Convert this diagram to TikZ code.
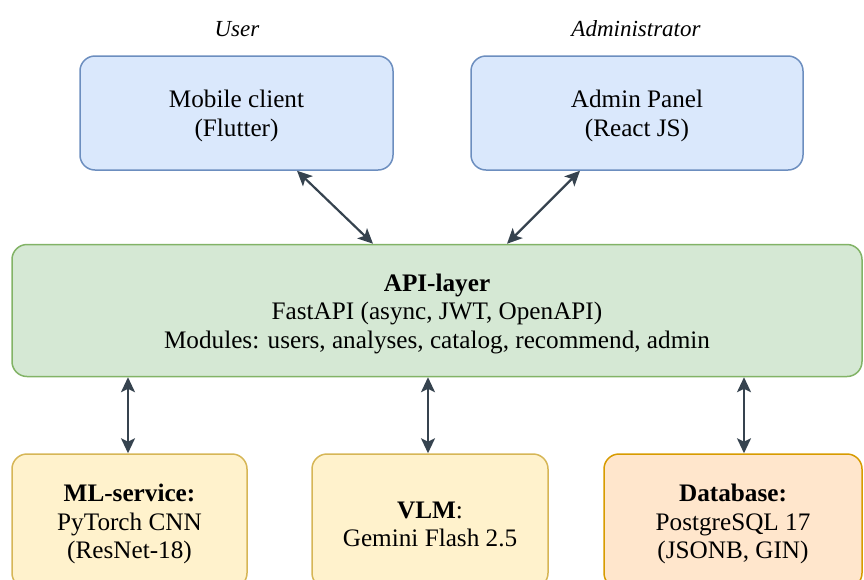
\documentclass[tikz,border=0pt]{standalone}
\usepackage{fontspec}
\setmainfont{Liberation Serif}
\usetikzlibrary{arrows.meta}
\definecolor{blueF}{HTML}{DAE8FC}
\definecolor{blueD}{HTML}{6C8EBF}
\definecolor{greenF}{HTML}{D5E8D4}
\definecolor{greenD}{HTML}{82B366}
\definecolor{yellowF}{HTML}{FFF2CC}
\definecolor{yellowD}{HTML}{D6B656}
\definecolor{orangeF}{HTML}{FFE6CC}
\definecolor{orangeD}{HTML}{D79B00}
\definecolor{arrowC}{HTML}{36434F}
\newcommand\firststrutx{\rule{0pt}{23.5pt}}
\begin{document}
\begin{tikzpicture}[x=1pt,y=-1pt,
  box/.style={rectangle, rounded corners=15pt, line width=1.5pt, align=center,
    font=\fontsize{25.2}{28.5}\selectfont, inner sep=0pt},
  bluebox/.style={box, fill=blueF, draw=blueD},
  greenbox/.style={box, fill=greenF, draw=greenD},
  yellowbox/.style={box, fill=yellowF, draw=yellowD},
  orangebox/.style={box, fill=orangeF, draw=orangeD},
  role/.style={font=\fontsize{23}{26}\selectfont\itshape, inner sep=0pt},
  arr/.style={line width=2.2pt, draw=arrowC,
    {Stealth[length=15pt,width=14pt,inset=3.5pt]}-{Stealth[length=15pt,width=14pt,inset=3.5pt]}}]
\useasboundingbox (0,0) rectangle (864,579);
\clip (0,0) rectangle (864,579);

\node[role] (user) at (237,29) {User};
\node[role] (admin) at (636,29) {Administrator};

\node[bluebox, minimum width=313pt, minimum height=114pt] (mob) at (236.5,113)
  {\firststrutx Mobile client\\(Flutter)};
\node[bluebox, minimum width=332pt, minimum height=114pt] (adm) at (637,113)
  {\firststrutx Admin Panel\\(React JS)};

\node[greenbox, minimum width=850pt, minimum height=132pt] (api) at (437,310.5)
  {\firststrutx\textbf{API-layer}\\FastAPI (async, JWT, OpenAPI)\\Modules: users, analyses, catalog, recommend, admin};

\node[yellowbox, minimum width=235pt, minimum height=134pt] (ml) at (129.5,521)
  {\firststrutx\textbf{ML-service:}\\PyTorch CNN\\(ResNet-18)};
\node[yellowbox, minimum width=236pt, minimum height=134pt] (vlm) at (430,521)
  {\firststrutx\textbf{VLM}:\\Gemini Flash 2.5};
\node[orangebox, minimum width=258pt, minimum height=134pt] (db) at (733,521)
  {\firststrutx\textbf{Database:}\\PostgreSQL 17\\(JSONB, GIN)};

\draw[arr] ([xshift=60.5pt]mob.south) -- ([xshift=-64pt]api.north);
\draw[arr] ([xshift=-57pt]adm.south) -- ([xshift=70pt]api.north);
\draw[arr] ([xshift=-1.5pt]ml.north |- api.south) -- ([xshift=-1.5pt]ml.north);
\draw[arr] ([xshift=-2pt]vlm.north |- api.south) -- ([xshift=-2pt]vlm.north);
\draw[arr] ([xshift=11pt]db.north |- api.south) -- ([xshift=11pt]db.north);
\end{tikzpicture}
\end{document}
